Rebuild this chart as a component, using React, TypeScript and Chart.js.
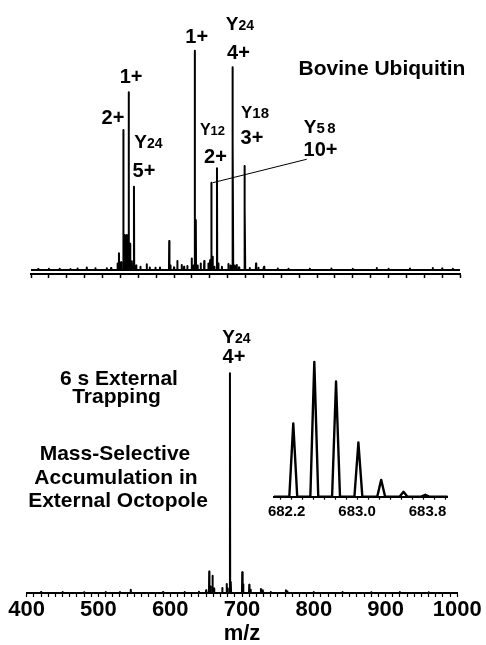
import React, { useEffect, useRef } from 'react';
import { Chart, registerables } from 'chart.js';

Chart.register(...registerables);

const FONT = "'Liberation Sans', Arial, Helvetica, sans-serif";

// ---------- data ----------
const MZ_MIN = 400;
const MZ_MAX = 1000;

// Upper spectrum: Bovine Ubiquitin fragments (relative intensity)
const TOP_MZ = [
  410, 425, 440, 455, 465, 478, 490, 506, 512, 521, 523, 526, 529.1, 531, 532.5, 534, 536.6, 538.5,
  541, 544, 547, 553, 561.8, 566, 574, 580.4, 593.3, 595, 600, 604.6, 610.7, 614, 618.6, 624.7,
  627, 629, 630.5, 633, 637.3, 642.3, 648, 650.5, 652.2, 654, 656.4, 660.1, 662, 667, 676, 679,
  681.5, 682.5, 685, 687.7, 691, 698.3, 699.3, 706, 714.7, 718, 724.9, 726, 745, 760, 790, 820,
  850, 883.5, 900, 930, 962, 975, 990,
];
const TOP_INTENSITY = [
  0.5, 0.6, 0.6, 0.5, 0.7, 1.2, 0.8, 0.8, 0.9, 3.0, 7.6, 3.5, 63.8, 16, 14, 16, 81, 12,
  4, 38, 2, 1.5, 2.6, 1.2, 1, 1.2, 13.2, 2, 1.2, 4.1, 2.3, 1.5, 1.8, 5.3,
  2, 100, 22.8, 2, 3, 4.1, 3, 4.5, 39.8, 6, 1.5, 46.4, 3, 1.5, 2.7, 2,
  92.4, 59, 2, 2.3, 1.2, 47.4, 28, 0.9, 3, 1, 0.9, 1.5, 0.7, 0.6, 0.6, 0.7,
  0.6, 0.9, 0.6, 0.7, 0.9, 0.7, 0.6,
];

// Lower spectrum: 6 s external trapping, mass-selective accumulation
const BOTTOM_MZ = [
  420, 450, 480, 510, 530, 545, 590, 620, 640, 650, 654.3, 656, 658.9, 661, 672.5, 678.6, 680,
  683.2, 684.5, 700.3, 701.5, 710.1, 712, 726.4, 729, 740, 761.2, 763, 800, 840, 880, 920, 960,
];
const BOTTOM_INTENSITY = [
  0.4, 0.4, 0.3, 0.4, 0.5, 1.5, 0.4, 0.5, 0.6, 1.2, 9.8, 3, 7.9, 2, 2.3, 4.1, 2,
  100, 5, 9.5, 4, 3.8, 1.5, 1.8, 1.2, 0.5, 1.2, 0.7, 0.5, 0.4, 0.3, 0.4, 0.3,
];

// Inset: isotope distribution of Y24 4+
const INSET_MIN = 682.056;
const INSET_MAX = 684.03;
const INSET_MZ = [682.275, 682.514, 682.761, 683.015, 683.274, 683.528, 683.775];
const INSET_INTENSITY = [54.3, 100, 85.4, 40.2, 12.5, 3.6, 1.4];
const INSET_TICK_STEP = 0.125;
const INSET_LABELS = [682.2, 683.0, 683.8];

// Annotations: [text, font size, letter spacing]
type Part = [string, number, number?];
type Label = { x: number; y: number; parts: Part[] };

const TOP_LABELS: Label[] = [
  { x: 631.7, y: 103.5, parts: [['1+', 20]] },
  { x: 692.3, y: 109.4, parts: [['Y', 19], ['24', 14]] },
  { x: 690.2, y: 96.2, parts: [['4+', 20]] },
  { x: 539.9, y: 85.3, parts: [['1+', 20]] },
  { x: 514.7, y: 66.6, parts: [['2+', 20]] },
  { x: 564.3, y: 55.8, parts: [['Y', 19], ['24', 14]] },
  { x: 558, y: 42.4, parts: [['5+', 20]] },
  { x: 653.8, y: 61.6, parts: [['Y', 16], ['12', 13]] },
  { x: 658, y: 48.8, parts: [['2+', 20]] },
  { x: 713.3, y: 69.3, parts: [['Y', 17], ['18', 15]] },
  { x: 709.1, y: 57.5, parts: [['3+', 20]] },
  { x: 805.5, y: 62.5, parts: [['Y', 19], ['58', 15, 2.5]] },
  { x: 804.9, y: 52, parts: [['10+', 20]] },
  { x: 890.9, y: 88.9, parts: [['Bovine Ubiquitin', 21]] },
];
const TOP_LEADERS = [{ x1: 785.6, y1: 50.5, x2: 654, y2: 39.8 }];

const BOTTOM_LABELS: Label[] = [
  { x: 692.3, y: 113.7, parts: [['Y', 19], ['24', 14]] },
  { x: 688.8, y: 104.6, parts: [['4+', 20]] },
  { x: 528.6, y: 94.7, parts: [['6 s External', 21]] },
  { x: 525.1, y: 86.3, parts: [['Trapping', 21]] },
  { x: 523, y: 60.5, parts: [['Mass-Selective', 21]] },
  { x: 524.4, y: 49.6, parts: [['Accumulation in', 21]] },
  { x: 527.2, y: 39.3, parts: [['External Octopole', 21]] },
];

// ---------- helpers ----------
function sticks(mz: number[], inten: number[], halfWidth: number, lo: number, hi: number) {
  const idx = mz.map((_, i) => i).sort((a, b) => mz[a] - mz[b]);
  const pts: { x: number; y: number }[] = [{ x: lo, y: 0 }];
  idx.forEach((i) => {
    pts.push({ x: mz[i] - halfWidth, y: 0 });
    pts.push({ x: mz[i], y: inten[i] });
    pts.push({ x: mz[i] + halfWidth, y: 0 });
  });
  pts.push({ x: hi, y: 0 });
  return pts;
}

function textPlugin(items: Label[], lines: { x1: number; y1: number; x2: number; y2: number }[]) {
  return {
    id: 'textLabels',
    afterDraw(chart: any) {
      const ctx = chart.ctx as CanvasRenderingContext2D;
      const xs = chart.scales.x;
      const ys = chart.scales.y;
      ctx.save();
      ctx.strokeStyle = '#000';
      ctx.lineWidth = 1;
      lines.forEach((l) => {
        ctx.beginPath();
        ctx.moveTo(xs.getPixelForValue(l.x1), ys.getPixelForValue(l.y1));
        ctx.lineTo(xs.getPixelForValue(l.x2), ys.getPixelForValue(l.y2));
        ctx.stroke();
      });
      ctx.fillStyle = '#000';
      ctx.textBaseline = 'alphabetic';
      ctx.textAlign = 'left';
      items.forEach((item) => {
        const widths = item.parts.map((p) => {
          ctx.font = `bold ${p[1]}px ${FONT}`;
          (ctx as any).letterSpacing = `${p[2] || 0}px`;
          return ctx.measureText(p[0]).width;
        });
        const total = widths.reduce((a, b) => a + b, 0);
        let x = xs.getPixelForValue(item.x) - total / 2;
        const y = ys.getPixelForValue(item.y);
        item.parts.forEach((p, i) => {
          ctx.font = `bold ${p[1]}px ${FONT}`;
          (ctx as any).letterSpacing = `${p[2] || 0}px`;
          ctx.fillText(p[0], x, y);
          x += widths[i];
        });
      });
      (ctx as any).letterSpacing = '0px';
      ctx.restore();
    },
  };
}

const lineStyle = {
  borderColor: '#000',
  pointRadius: 0,
  tension: 0,
  fill: false,
  borderJoinStyle: 'round' as const,
};

const baseOptions = {
  animation: false as const,
  responsive: false,
  devicePixelRatio: 1,
  events: [] as any[],
  plugins: { legend: { display: false }, tooltip: { enabled: false } },
};

function topConfig(): any {
  return {
    type: 'line',
    data: {
      datasets: [{ ...lineStyle, borderWidth: 2, data: sticks(TOP_MZ, TOP_INTENSITY, 0.35, MZ_MIN, MZ_MAX) }],
    },
    options: {
      ...baseOptions,
      layout: { padding: { left: 31, right: 26, top: 20, bottom: 22 } },
      scales: {
        x: {
          type: 'linear',
          min: MZ_MIN,
          max: MZ_MAX,
          ticks: { display: false, stepSize: 25 },
          grid: { drawOnChartArea: false, drawTicks: true, tickLength: 4, tickColor: '#000', tickWidth: 1.5 },
          border: { display: true, color: '#000', width: 2 },
        },
        y: { display: false, min: -1.82, max: 114 },
      },
    },
    plugins: [textPlugin(TOP_LABELS, TOP_LEADERS)],
  };
}

function bottomConfig(): any {
  return {
    type: 'line',
    data: {
      datasets: [{ ...lineStyle, borderWidth: 2, data: sticks(BOTTOM_MZ, BOTTOM_INTENSITY, 0.35, MZ_MIN, MZ_MAX) }],
    },
    options: {
      ...baseOptions,
      layout: { padding: { left: 26.7, right: 28.7, top: 20, bottom: 0 } },
      scales: {
        x: {
          type: 'linear',
          min: MZ_MIN,
          max: MZ_MAX,
          ticks: {
            stepSize: 10,
            autoSkip: false,
            maxRotation: 0,
            padding: 2,
            color: '#000',
            font: { family: FONT, size: 22, weight: 'bold', lineHeight: 1 },
            callback: (v: number) => (Math.abs(v % 100) < 1e-6 ? String(Math.round(v)) : ''),
          },
          grid: { drawOnChartArea: false, drawTicks: true, tickLength: 4, tickColor: '#000', tickWidth: 1.2 },
          border: { display: true, color: '#000', width: 2 },
          title: {
            display: true,
            text: 'm/z',
            color: '#000',
            padding: 0,
            font: { family: FONT, size: 22, weight: 'bold', lineHeight: 1 },
          },
        },
        y: { display: false, min: 0, max: 124.3 },
      },
    },
    plugins: [textPlugin(BOTTOM_LABELS, [])],
  };
}

function insetConfig(): any {
  const gridTicks: number[] = [];
  const first = Math.ceil(INSET_MIN / INSET_TICK_STEP) * INSET_TICK_STEP;
  for (let v = first; v <= INSET_MAX + 1e-9; v += INSET_TICK_STEP) gridTicks.push(+v.toFixed(4));
  const isLabel = (v: number) => INSET_LABELS.some((l) => Math.abs(l - v) < 1e-6);
  const isGrid = (v: number) => gridTicks.some((g) => Math.abs(g - v) < 1e-6);
  const allTicks = Array.from(new Set([...gridTicks, ...INSET_LABELS])).sort((a, b) => a - b);
  return {
    type: 'line',
    data: {
      datasets: [{ ...lineStyle, borderWidth: 2.4, data: sticks(INSET_MZ, INSET_INTENSITY, 0.045, INSET_MIN, INSET_MAX) }],
    },
    options: {
      ...baseOptions,
      layout: { padding: { left: 24, right: 22.3, top: 10, bottom: 15.3 } },
      scales: {
        x: {
          type: 'linear',
          min: INSET_MIN,
          max: INSET_MAX,
          afterBuildTicks: (axis: any) => {
            axis.ticks = allTicks.map((v) => ({ value: v }));
          },
          ticks: {
            autoSkip: false,
            maxRotation: 0,
            padding: 5,
            color: '#000',
            font: { family: FONT, size: 15, weight: 'bold', lineHeight: 1 },
            callback: (v: number) => (isLabel(v) ? v.toFixed(1) : ''),
          },
          grid: {
            drawOnChartArea: false,
            drawTicks: true,
            tickLength: 3,
            tickWidth: 1.2,
            tickColor: (c: any) => (c.tick && isGrid(c.tick.value) ? '#000' : 'rgba(0,0,0,0)'),
          },
          border: { display: true, color: '#000', width: 2 },
        },
        y: { display: false, min: 0, max: 108.8 },
      },
    },
  };
}

export default function App() {
  const topRef = useRef<HTMLCanvasElement>(null);
  const bottomRef = useRef<HTMLCanvasElement>(null);
  const insetRef = useRef<HTMLCanvasElement>(null);

  useEffect(() => {
    const charts = [
      new Chart(topRef.current as HTMLCanvasElement, topConfig()),
      new Chart(bottomRef.current as HTMLCanvasElement, bottomConfig()),
      new Chart(insetRef.current as HTMLCanvasElement, insetConfig()),
    ];
    return () => charts.forEach((c) => c.destroy());
  }, []);

  return (
    <div
      style={{
        position: 'absolute',
        left: 0,
        top: 0,
        width: 486,
        height: 645,
        background: '#fff',
        overflow: 'hidden',
      }}
    >
      <canvas ref={topRef} width={486} height={300} style={{ position: 'absolute', left: 0, top: 0 }} />
      <canvas ref={bottomRef} width={486} height={345} style={{ position: 'absolute', left: 0, top: 300 }} />
      <canvas ref={insetRef} width={220} height={200} style={{ position: 'absolute', left: 250, top: 340 }} />
    </div>
  );
}
